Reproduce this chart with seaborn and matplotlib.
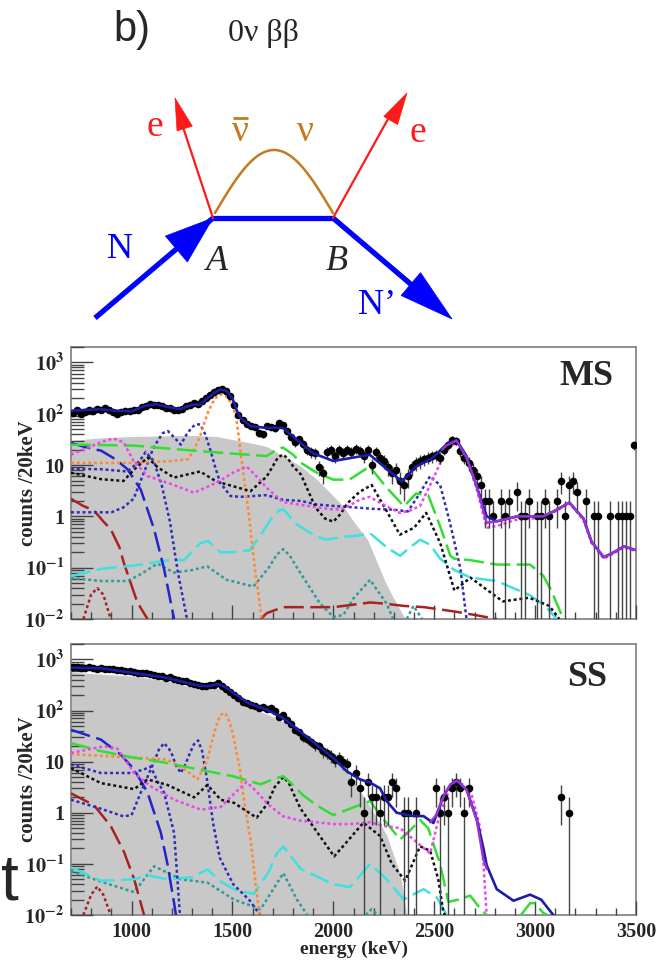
import numpy as np
import pandas as pd
import matplotlib
matplotlib.use("Agg")
import matplotlib.pyplot as plt
import seaborn as sns
from matplotlib.patches import Polygon
from matplotlib.ticker import MultipleLocator, LogLocator, NullFormatter

sns.set_theme(style="ticks")
plt.rcParams["font.family"] = ["Liberation Serif", "DejaVu Serif"]
plt.rcParams["mathtext.fontset"] = "stix"

# -----------------------------
# DATA  (energy keV, counts / 20 keV)
# -----------------------------
xlim = (700, 3500)
ylim = (0.01, 2000)
ytick_vals = [0.01, 0.1, 1, 10, 100, 1000]
ytick_labels = [r"$\mathbf{10^{-2}}$", r"$\mathbf{10^{-1}}$", "1", "10",
                r"$\mathbf{10^{2}}$", r"$\mathbf{10^{3}}$"]

# measured spectra: dense part in 20 keV bins starting at 710 keV
bin_start = 710
ms_counts = [105, 120, 100, 110, 118, 112, 125, 120, 128, 118,
             110, 100, 108, 112, 115, 120, 118, 135, 140, 155,
             150, 145, 140, 132, 128, 120, 118, 125, 140, 150,
             160, 155, 180, 200, 230, 270, 290, 300, 275, 220,
             150, 95, 75, 62, 58, 55, 42, 40, 58, 55,
             52, 66, 60, 46, 35, 28, 32, 26, 20, 18,
             17, 9, 7, 18, 20, 15, 20, 17, 20, 18,
             21, 19, 15, 20, 10, 18, 14, 12, 9, 7,
             8, 5, 4, 6, 9, 11, 12, 13, 14, 15,
             16, 14, 20, 25, 31, 30, 19, 14, 11, 8,
             6, 4]
ms_sparse = [(2750, 2), (2770, 2), (2790, 1), (2830, 2), (2850, 1), (2870, 2),
             (2910, 3), (2930, 1), (2950, 1), (2970, 2), (3010, 1), (3030, 1),
             (3050, 2), (3070, 1), (3110, 2), (3130, 5), (3150, 1), (3170, 4),
             (3190, 5), (3210, 3), (3250, 2), (3290, 1), (3310, 1), (3370, 1),
             (3410, 1), (3430, 1), (3450, 1), (3470, 1), (3490, 25)]

ss_counts = [700, 720, 690, 680, 700, 670, 660, 680, 650, 640,
             660, 620, 610, 600, 580, 570, 550, 540, 530, 510,
             500, 480, 470, 440, 450, 420, 400, 380, 370, 340,
             330, 310, 305, 300, 310, 320, 340, 300, 260, 230,
             200, 175, 150, 140, 130, 120, 110, 115, 105, 110,
             100, 75, 80, 65, 55, 42, 38, 30, 28, 24,
             21, 20, 16, 15, 13, 11, 12, 10, 9]
ss_sparse = [(2090, 4), (2110, 6), (2130, 3), (2150, 1), (2170, 4), (2190, 2),
             (2210, 2), (2230, 1), (2250, 2), (2270, 2), (2290, 4), (2310, 3),
             (2350, 1), (2370, 1), (2410, 1), (2510, 3), (2530, 1), (2550, 2),
             (2570, 1), (2590, 3), (2610, 4), (2630, 3), (2650, 1), (2670, 3),
             (3130, 2), (3170, 1)]

# ---- MS model components ----
ms_total = [(700, 114), (760, 118), (850, 123), (910, 115), (1000, 112), (1060, 140),
            (1120, 154), (1180, 135), (1240, 123), (1300, 150), (1340, 151), (1370, 192),
            (1410, 255), (1440, 297), (1470, 280), (1500, 200), (1520, 120), (1540, 83),
            (1590, 57), (1670, 53), (1750, 53), (1820, 31), (1900, 17), (2000, 12),
            (2080, 13.6), (2180, 15.9), (2260, 8.7), (2340, 4.8), (2410, 9.4), (2490, 13.6),
            (2560, 25), (2610, 31), (2660, 15), (2710, 3.9), (2760, 1.0), (2810, 0.8),
            (2910, 1.0), (3040, 1.0), (3100, 1.3), (3170, 1.86), (3240, 0.9), (3280, 0.32),
            (3340, 0.16), (3390, 0.2), (3440, 0.26), (3500, 0.22)]
ms_purple = [(2540, 20), (2560, 24), (2610, 30), (2660, 14), (2710, 3.9), (2760, 0.75),
             (2810, 0.8), (2910, 1.0), (3040, 1.0), (3100, 1.3), (3170, 1.86), (3240, 0.9),
             (3280, 0.32), (3340, 0.16), (3390, 0.2), (3440, 0.26), (3500, 0.22)]
ms_gray = [(700, 30), (850, 34), (1000, 36), (1300, 38), (1420, 36), (1590, 27),
           (1670, 23), (1750, 15), (1830, 10), (1920, 5.2), (2000, 2.5), (2050, 1.56),
           (2100, 0.8), (2170, 0.35), (2260, 0.05), (2300, 0.025), (2340, 0.013), (2360, 0.01)]
ms_green = [(700, 25), (1010, 24), (1340, 18.6), (1670, 15), (1710, 19), (1750, 22),
            (1800, 16), (1840, 11), (1920, 7), (2000, 5.2), (2080, 5.2), (2180, 9.4),
            (2260, 3.8), (2350, 1.57), (2410, 2.8), (2470, 2.6), (2530, 0.63), (2580, 0.17),
            (2600, 0.15), (2680, 0.14), (2810, 0.115), (2975, 0.115), (3040, 0.07),
            (3080, 0.036), (3140, 0.01)]
ms_black = [(700, 7.1), (850, 5.3), (960, 4.9), (1010, 8), (1080, 14), (1130, 9),
            (1210, 5.7), (1340, 7.5), (1420, 4.8), (1500, 3.9), (1590, 3.1), (1670, 6),
            (1700, 9.5), (1725, 14), (1750, 16), (1775, 13.5), (1800, 9.5), (1840, 6.5),
            (1870, 3.5), (1900, 1.9), (1920, 1.36), (1960, 0.9), (2000, 0.79), (2035, 1.1),
            (2070, 1.8), (2130, 3.0), (2190, 4.1), (2260, 1.36), (2330, 0.44), (2400, 0.6),
            (2460, 1.17), (2530, 0.3), (2600, 0.036), (2680, 0.064), (2750, 0.04),
            (2840, 0.022), (2970, 0.026), (3070, 0.018), (3120, 0.01)]
ms_magenta = [(700, 16), (850, 28), (910, 33), (960, 28), (1010, 12), (1080, 6.1),
              (1180, 4.5), (1310, 2.9), (1420, 4.5), (1500, 7), (1570, 9.4), (1620, 6),
              (1670, 3.6), (1750, 1.9), (1830, 1.7), (1920, 1.5), (2000, 1.36), (2050, 1.4),
              (2130, 2.1), (2180, 2.4), (2260, 1.6), (2330, 1.17), (2380, 1.3), (2430, 1.6),
              (2500, 6), (2560, 20), (2610, 28), (2660, 14), (2710, 3.5), (2760, 0.6),
              (2810, 0.65), (2900, 0.85), (3040, 0.95), (3100, 1.25), (3170, 1.8),
              (3240, 0.85), (3280, 0.3), (3340, 0.15), (3390, 0.19), (3440, 0.25), (3500, 0.21)]
ms_navy_a = [(700, 1.2), (900, 1.2), (960, 1.5), (1010, 2.2), (1080, 11), (1105, 20),
             (1130, 30), (1155, 42), (1180, 46), (1210, 35), (1244, 25), (1270, 38),
             (1300, 55), (1320, 62), (1340, 62), (1365, 40), (1390, 20), (1415, 9),
             (1440, 4.5), (1490, 2.5), (1540, 2.4), (1670, 2.6), (1750, 2.1), (1840, 2.0),
             (1920, 1.7), (2000, 1.6), (2100, 1.5), (2200, 1.4), (2300, 1.35), (2370, 1.25),
             (2420, 2.5), (2480, 6.1), (2530, 4), (2580, 0.7), (2630, 0.095), (2660, 0.01)]
ms_navy_b = [(700, 8.5), (850, 8.3), (980, 7.5), (1040, 12), (1070, 18), (1110, 12),
             (1150, 4), (1190, 0.8), (1230, 0.08), (1275, 0.01)]
ms_blue_dash = [(700, 27), (760, 23), (850, 19), (920, 13), (980, 8.3), (1046, 3.3),
                (1112, 0.56), (1161, 0.095), (1211, 0.01)]
ms_orange = [(700, 11), (1000, 11), (1200, 12), (1280, 13), (1310, 20), (1340, 37),
             (1360, 65), (1380, 110), (1400, 160), (1420, 210), (1446, 240), (1470, 220),
             (1490, 170), (1504, 140), (1520, 75), (1530, 40), (1542, 16), (1554, 7),
             (1566, 3), (1580, 1.2), (1592, 0.45), (1604, 0.17), (1615, 0.07), (1625, 0.04),
             (1645, 0.01)]
ms_red_lo = [(700, 2.2), (760, 1.6), (814, 1.3), (860, 0.8), (897, 0.56), (940, 0.25),
             (963, 0.12), (1000, 0.045), (1029, 0.021), (1079, 0.01)]
ms_red_hi = [(1640, 0.01), (1670, 0.013), (1750, 0.017), (1900, 0.017), (2000, 0.017),
             (2100, 0.019), (2182, 0.021), (2250, 0.02), (2350, 0.018), (2450, 0.017),
             (2600, 0.014), (2700, 0.012), (2810, 0.01)]
ms_red_dot = [(761, 0.01), (800, 0.03), (830, 0.04), (860, 0.03), (897, 0.01)]
ms_cyan = [(700, 0.068), (850, 0.095), (1010, 0.11), (1180, 0.14), (1260, 0.14),
           (1340, 0.3), (1380, 0.33), (1440, 0.2), (1500, 0.2), (1587, 0.22), (1650, 0.5),
           (1700, 1.0), (1730, 1.3), (1752, 1.36), (1775, 1.1), (1800, 0.8), (1835, 0.63),
           (1920, 0.4), (1967, 0.35), (2050, 0.4), (2120, 0.42), (2182, 0.47), (2264, 0.25),
           (2331, 0.17), (2380, 0.25), (2430, 0.35), (2480, 0.28), (2529, 0.15),
           (2600, 0.09), (2680, 0.064), (2810, 0.055), (2975, 0.029), (3050, 0.018),
           (3107, 0.01)]
ms_teal = [(700, 0.063), (850, 0.055), (980, 0.055), (1046, 0.075), (1128, 0.12),
           (1211, 0.08), (1300, 0.09), (1376, 0.106), (1420, 0.08), (1471, 0.058),
           (1604, 0.043), (1680, 0.1), (1720, 0.18), (1752, 0.23), (1785, 0.17),
           (1820, 0.1), (1934, 0.02), (2000, 0.011), (2050, 0.012), (2099, 0.025),
           (2182, 0.058), (2264, 0.02), (2297, 0.01)]
ms_teal_2 = [(2364, 0.01), (2397, 0.018), (2440, 0.01)]

# ---- SS model components ----
ss_total = [(700, 690), (850, 670), (1005, 545), (1170, 440), (1335, 305), (1380, 300),
            (1430, 330), (1470, 280), (1504, 220), (1587, 135), (1670, 104), (1752, 71),
            (1835, 39), (1917, 21.5), (2000, 11.8), (2066, 6.5), (2132, 4.5), (2182, 3.9),
            (2232, 3), (2264, 1.7), (2314, 1.0), (2397, 0.86), (2447, 0.86), (2496, 0.63),
            (2546, 2.1), (2580, 3.5), (2612, 4.2), (2661, 2.8), (2711, 0.74), (2744, 0.2),
            (2760, 0.094), (2810, 0.032), (2893, 0.019), (2975, 0.025), (3030, 0.02),
            (3090, 0.01)]
ss_purple = [(2480, 0.65), (2510, 0.9), (2546, 2.1), (2580, 3.6), (2612, 4.3),
             (2661, 2.8), (2711, 0.7), (2744, 0.12), (2760, 0.08)]
ss_gray = [(700, 560), (1005, 470), (1170, 380), (1339, 260), (1438, 270), (1471, 230),
           (1504, 190), (1587, 112), (1670, 85), (1752, 60), (1917, 20), (2000, 11),
           (2066, 6.5), (2165, 1.7), (2264, 0.37), (2331, 0.063), (2364, 0.01)]
ss_green = [(700, 23), (850, 16), (1010, 12), (1170, 9.5), (1335, 7), (1500, 5.2),
            (1600, 4), (1640, 3.6), (1700, 4.5), (1752, 5.2), (1800, 3.5), (1850, 2.2),
            (1917, 1.4), (2000, 0.9), (2083, 1.2), (2182, 1.7), (2232, 0.9), (2264, 0.63),
            (2331, 0.3), (2380, 0.45), (2430, 0.72), (2470, 0.5), (2529, 0.1), (2570, 0.018),
            (2620, 0.02), (2678, 0.024), (2730, 0.013), (2760, 0.01)]
ss_green_2 = [(2930, 0.01), (2975, 0.017), (3000, 0.017), (3040, 0.011), (3060, 0.01)]
ss_orange = [(700, 14), (1013, 12), (1178, 11), (1277, 6.5), (1327, 4.5), (1376, 11),
             (1395, 22), (1409, 35), (1425, 58), (1440, 80), (1455, 90), (1470, 82),
             (1485, 60), (1498, 40), (1510, 25), (1522, 14), (1535, 8), (1560, 1.5),
             (1590, 0.3), (1615, 0.04), (1635, 0.01)]
ss_magenta = [(700, 14.8), (865, 20), (930, 18), (1013, 6), (1095, 3.3), (1211, 1.8),
              (1343, 1.15), (1442, 1.3), (1500, 2.2), (1570, 4), (1620, 2.6), (1673, 1.5),
              (1752, 0.85), (1838, 0.7), (2004, 0.6), (2083, 0.6), (2182, 0.65), (2250, 0.55),
              (2331, 0.5), (2397, 0.3), (2480, 0.16), (2529, 1.0), (2570, 2.5), (2612, 4.2),
              (2678, 2.9), (2727, 0.53), (2744, 0.1), (2760, 0.01)]
ss_black = [(700, 7.5), (848, 3.8), (1013, 2.9), (1079, 4.5), (1178, 3.5), (1310, 2),
            (1376, 3.5), (1442, 1.8), (1508, 1.56), (1620, 0.8), (1673, 1.5), (1710, 3.2),
            (1752, 5), (1780, 3.8), (1800, 2.5), (1838, 1.2), (1921, 0.41), (2004, 0.14),
            (2060, 0.25), (2149, 0.64), (2232, 0.35), (2290, 0.1), (2356, 0.047),
            (2430, 0.22), (2480, 0.18), (2520, 0.05), (2546, 0.011), (2555, 0.01)]
ss_navy_a = [(700, 1.8), (848, 1.2), (960, 0.85), (1000, 0.9), (1046, 2.5), (1112, 10),
             (1135, 17), (1161, 23), (1185, 18), (1200, 14), (1220, 8.5), (1244, 6),
             (1268, 9), (1290, 15), (1310, 22), (1330, 26), (1350, 16), (1372, 5),
             (1405, 0.6), (1438, 0.13), (1504, 0.04), (1587, 0.019), (1637, 0.01)]
ss_navy_b = [(700, 8.8), (848, 6), (1000, 6), (1060, 7), (1095, 8), (1130, 4),
             (1161, 2.5), (1211, 0.4), (1240, 0.01)]
ss_blue_dash = [(700, 42), (848, 27), (947, 13.7), (1013, 7), (1079, 2.5), (1145, 0.41),
                (1178, 0.1), (1211, 0.017), (1220, 0.01)]
ss_red = [(700, 2.4), (814, 1.4), (897, 0.55), (963, 0.17), (1013, 0.05), (1062, 0.01)]
ss_red_dot = [(761, 0.01), (800, 0.025), (830, 0.036), (860, 0.025), (897, 0.01)]
ss_cyan = [(700, 0.085), (848, 0.047), (1013, 0.05), (1079, 0.06), (1178, 0.05),
           (1300, 0.055), (1376, 0.078), (1442, 0.045), (1520, 0.03), (1607, 0.026),
           (1680, 0.07), (1720, 0.16), (1752, 0.22), (1790, 0.14), (1838, 0.08),
           (2000, 0.04), (2083, 0.035), (2182, 0.1), (2265, 0.05), (2348, 0.02),
           (2447, 0.032), (2513, 0.022), (2562, 0.01)]
ss_teal = [(700, 0.072), (848, 0.045), (1013, 0.028), (1112, 0.09), (1244, 0.05),
           (1376, 0.043), (1508, 0.02), (1640, 0.013), (1752, 0.066), (1820, 0.02),
           (1871, 0.01)]
ss_teal_2 = [(2160, 0.01), (2190, 0.013), (2220, 0.01)]

# styles
LONG = (0, (8, 2.6))
DOT = (0, (1.2, 1.1))
C_TOTAL = "#1c1ca8"
C_PURPLE = "#9a33d6"
C_GREEN = "#33dd33"
C_CYAN = "#3fe0e0"
C_BLUE = "#2424cc"
C_RED = "#a82222"
C_BLACK = "#111111"
C_MAGENTA = "#ee44ee"
C_NAVY = "#2e2eb8"
C_ORANGE = "#ff8833"
C_TEAL = "#339999"
C_GRAY = "#c8c8c8"


def draw_curve(ax, pts, color, ls, lw=1.8, z=3):
    df = pd.DataFrame(pts, columns=["energy", "counts"])
    sns.lineplot(data=df, x="energy", y="counts", ax=ax, color=color, linestyle=ls,
                 linewidth=lw, estimator=None, errorbar=None, sort=False, zorder=z)


def draw_data(ax, counts, sparse):
    e = list(bin_start + 20 * np.arange(len(counts))) + [p[0] for p in sparse]
    n = np.array(list(counts) + [p[1] for p in sparse], dtype=float)
    lo = np.minimum(np.sqrt(n), n - 1e-3)
    hi = np.sqrt(n)
    ax.errorbar(e, n, yerr=[lo, hi], fmt="none", ecolor="#444444", elinewidth=1.0, zorder=6)
    sns.scatterplot(x=e, y=n, ax=ax, color="black", s=30, edgecolor="black",
                    linewidth=0, zorder=7)


def style_axis(ax, name, name_y):
    ax.set_yscale("log")
    ax.set_xlim(*xlim)
    ax.set_ylim(*ylim)
    ax.set_axisbelow(False)
    ax.set_yticks(ytick_vals, ytick_labels)
    ax.yaxis.set_minor_locator(LogLocator(base=10, subs=np.arange(2, 10)))
    ax.yaxis.set_minor_formatter(NullFormatter())
    ax.xaxis.set_major_locator(MultipleLocator(500))
    ax.xaxis.set_minor_locator(MultipleLocator(100))
    ax.tick_params(axis="both", which="both", direction="in", top=False, right=False,
                   color="#444444", width=1.0)
    ax.tick_params(axis="y", which="major", length=16, labelsize=14.5, pad=5)
    ax.tick_params(axis="y", which="minor", length=9)
    ax.tick_params(axis="x", which="major", length=10, labelsize=14.5, pad=5)
    ax.tick_params(axis="x", which="minor", length=5)
    for lbl in ax.get_yticklabels() + ax.get_xticklabels():
        lbl.set_fontweight("bold")
    for sp in ax.spines.values():
        sp.set_color("#888888")
        sp.set_linewidth(1.3)
        sp.set_visible(True)
    ax.set_ylabel("counts /20keV", fontsize=15, fontweight="bold")
    ax.yaxis.set_label_coords(-0.058, 0.5)
    ax.text(0.913, name_y, name, transform=ax.transAxes, ha="center", va="center",
            fontsize=26, fontweight="bold")
    ax.set_facecolor("white")
    ax.grid(False)


def draw_panel(ax, comp, counts, sparse):
    e, v = zip(*comp["gray"])
    ax.fill_between(e, 1e-4, v, color=C_GRAY, lw=0, zorder=1)
    draw_curve(ax, comp["teal"], C_TEAL, DOT)
    for extra in comp.get("teal2", []):
        draw_curve(ax, extra, C_TEAL, DOT)
    draw_curve(ax, comp["red_dot"], C_RED, DOT)
    for seg in comp["red"]:
        draw_curve(ax, seg, C_RED, LONG)
    draw_curve(ax, comp["cyan"], C_CYAN, LONG)
    draw_curve(ax, comp["blue_dash"], C_BLUE, LONG)
    draw_curve(ax, comp["navy_b"], C_NAVY, DOT)
    draw_curve(ax, comp["navy_a"], C_NAVY, DOT)
    draw_curve(ax, comp["orange"], C_ORANGE, DOT)
    draw_curve(ax, comp["black"], C_BLACK, DOT)
    for seg in comp["green"]:
        draw_curve(ax, seg, C_GREEN, LONG)
    draw_curve(ax, comp["magenta"], C_MAGENTA, DOT)
    draw_data(ax, counts, sparse)
    draw_curve(ax, comp["total"], C_TOTAL, "-", lw=1.9, z=8)
    draw_curve(ax, comp["purple"], C_PURPLE, "-", lw=1.7, z=9)


ms_comp = {"gray": ms_gray, "teal": ms_teal, "teal2": [ms_teal_2], "red_dot": ms_red_dot,
           "red": [ms_red_lo, ms_red_hi], "cyan": ms_cyan, "blue_dash": ms_blue_dash,
           "navy_a": ms_navy_a, "navy_b": ms_navy_b, "orange": ms_orange,
           "black": ms_black, "green": [ms_green], "magenta": ms_magenta,
           "total": ms_total, "purple": ms_purple}
ss_comp = {"gray": ss_gray, "teal": ss_teal, "teal2": [ss_teal_2], "red_dot": ss_red_dot,
           "red": [ss_red], "cyan": ss_cyan, "blue_dash": ss_blue_dash,
           "navy_a": ss_navy_a, "navy_b": ss_navy_b, "orange": ss_orange,
           "black": ss_black, "green": [ss_green, ss_green_2], "magenta": ss_magenta,
           "total": ss_total, "purple": ss_purple}

# -----------------------------
# FIGURE
# -----------------------------
W, H = 666, 960
fig = plt.figure(figsize=(W / 100, H / 100), dpi=100, facecolor="white")

# overlay in pixel coordinates for the Feynman diagram
ov = fig.add_axes([0, 0, 1, 1])
ov.set_xlim(0, W)
ov.set_ylim(H, 0)
ov.axis("off")
ov.patch.set_alpha(0)


def arrow_head(tail, tip, length, width, color):
    tail = np.array(tail, float)
    tip = np.array(tip, float)
    d = (tip - tail) / np.hypot(*(tip - tail))
    nrm = np.array([-d[1], d[0]])
    base = tip - d * length
    tri = [tip, base + nrm * width / 2, base - nrm * width / 2]
    ov.add_patch(Polygon(tri, closed=True, facecolor=color, edgecolor=color, lw=0.5))


A = (213, 218)
B = (333, 218)
blue = "#0000ff"
red = "#ff1a1a"
brown = "#c47a1e"
ov.plot([95, A[0]], [318, A[1]], color=blue, lw=3.8, solid_capstyle="butt")
arrow_head((95, 318), A, 48, 34, blue)
ov.plot([A[0], B[0]], [A[1], B[1]], color=blue, lw=3.8)
ov.plot([B[0], 420], [B[1], 292], color=blue, lw=3.8, solid_capstyle="butt")
arrow_head(B, (452, 319), 54, 30, blue)
ov.plot([A[0], 180], [A[1], 118], color=red, lw=1.6)
arrow_head(A, (175, 98), 32, 16, red)
ov.plot([B[0], 393], [B[1], 110], color=red, lw=1.6)
arrow_head(B, (407, 93), 32, 16, red)
t = np.linspace(0, 1, 60)
ov.plot(215 + 118 * t, 213 - 63 * np.sin(np.pi * t), color=brown, lw=1.8)

ov.text(132, 30, "b)", fontsize=30, ha="center", va="center", family="Liberation Sans")
ov.text(263, 33, "0ν ββ", fontsize=23, ha="center", va="center")
ov.text(155, 127, "e", fontsize=27, color=red, ha="center", va="center")
ov.text(418, 133, "e", fontsize=27, color=red, ha="center", va="center")
ov.text(240, 132, "ν", fontsize=27, color=brown, ha="center", va="center")
ov.plot([234, 247], [118, 118], color=brown, lw=2.0)
ov.text(305, 132, "ν", fontsize=27, color=brown, ha="center", va="center")
ov.text(120, 250, "N", fontsize=26, color=blue, ha="center", va="center")
ov.text(377, 305, "N’", fontsize=26, color=blue, ha="center", va="center")
ov.text(217, 262, "A", fontsize=26, style="italic", ha="center", va="center")
ov.text(337, 262, "B", fontsize=26, style="italic", ha="center", va="center")
ov.text(1, 882, "t", fontsize=46, ha="left", va="center", family="Liberation Sans")

# spectra panels
ax_ms = fig.add_axes([71 / W, 1 - 619 / H, 565 / W, 272 / H])
ax_ss = fig.add_axes([71 / W, 1 - 915 / H, 565 / W, 271 / H])

draw_panel(ax_ms, ms_comp, ms_counts, ms_sparse)
style_axis(ax_ms, "MS", 0.89)
ax_ms.tick_params(labelbottom=False)
ax_ms.set_xlabel("")

draw_panel(ax_ss, ss_comp, ss_counts, ss_sparse)
style_axis(ax_ss, "SS", 0.875)
ax_ss.set_xlabel("energy (keV)", fontsize=14, fontweight="bold")
ax_ss.xaxis.set_label_coords(0.5, -0.095)

fig.savefig("out.png", dpi=100, facecolor="white")
